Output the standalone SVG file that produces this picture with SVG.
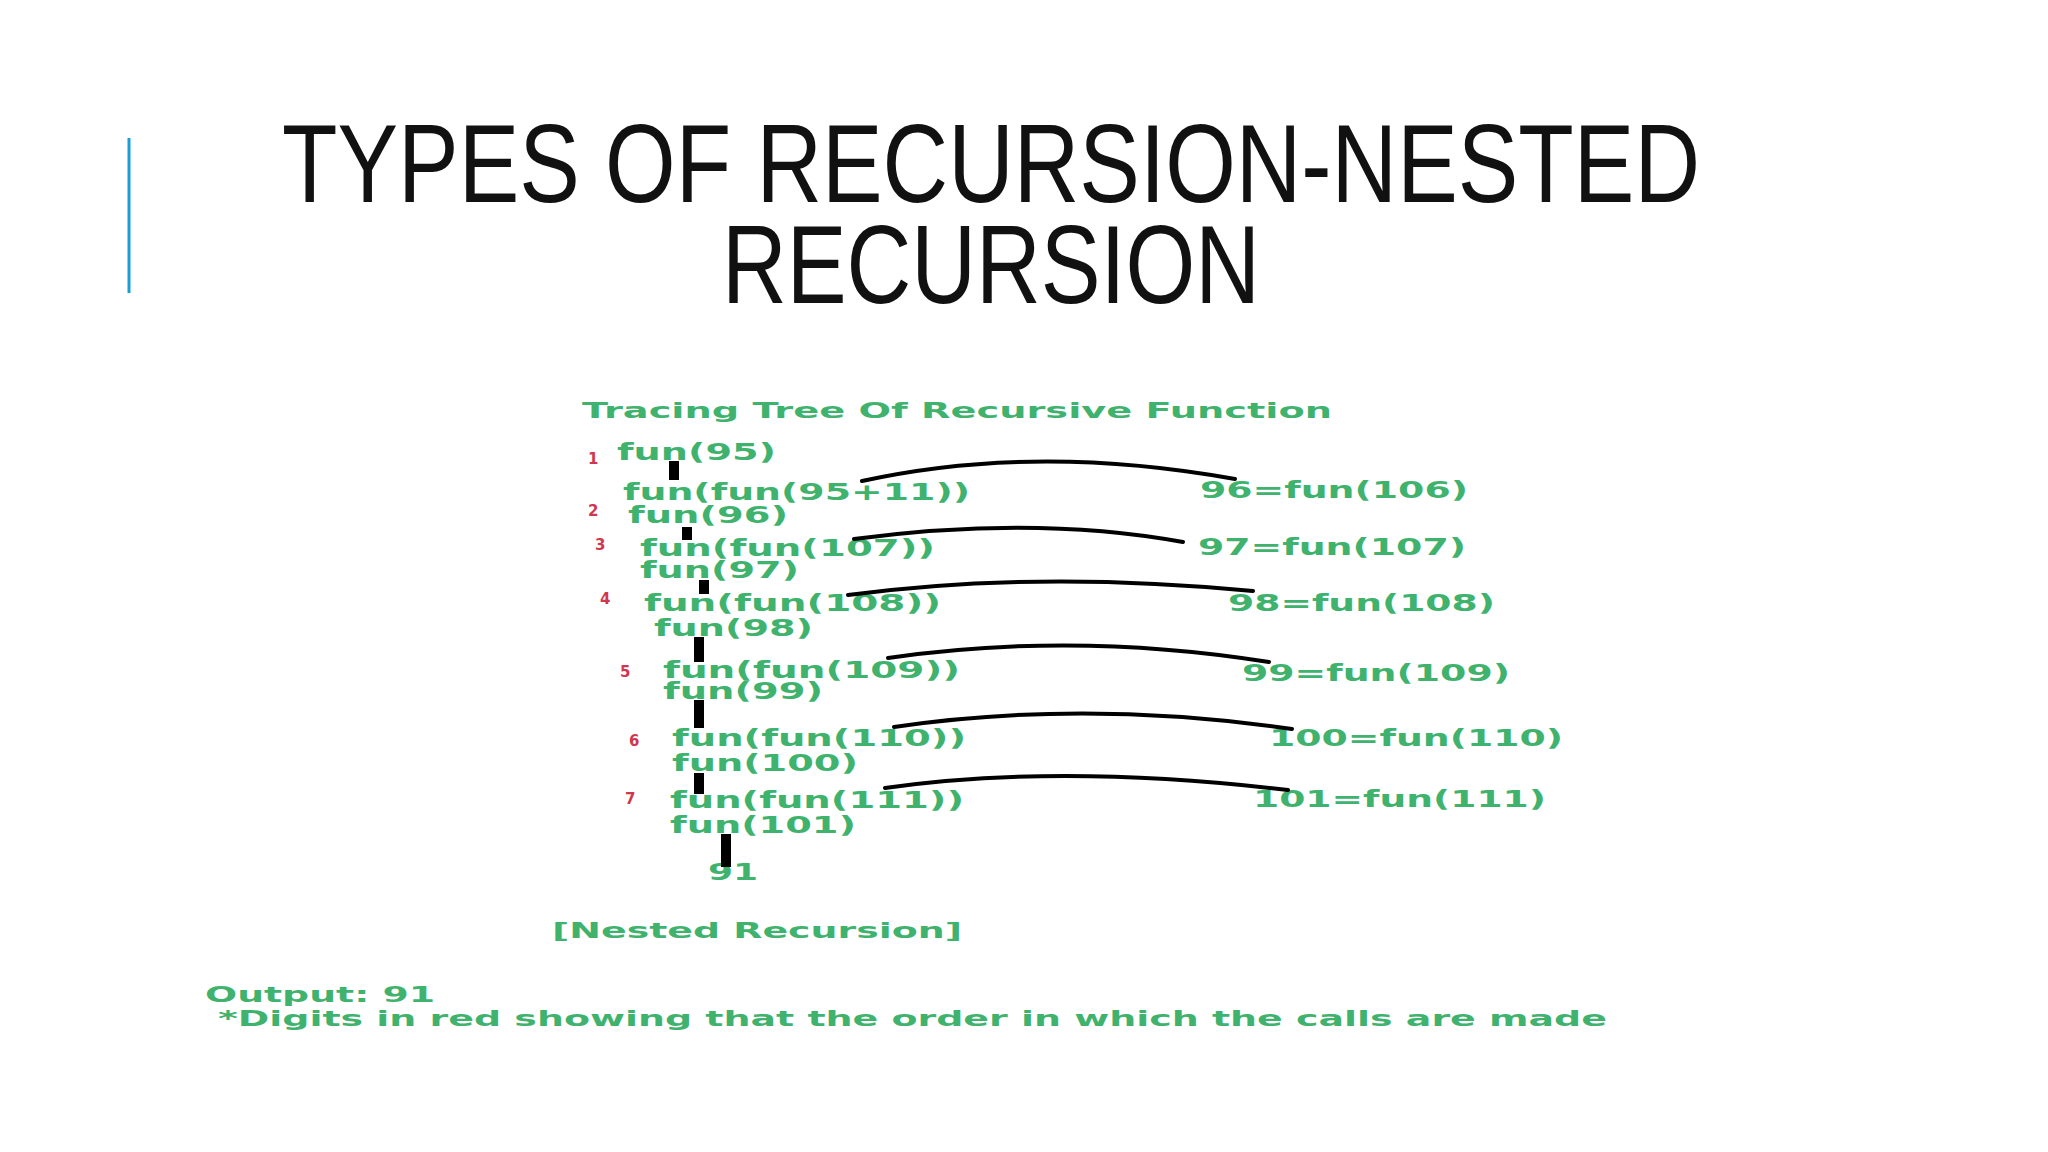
<svg xmlns="http://www.w3.org/2000/svg" width="2048" height="1152" viewBox="0 0 2048 1152">
<style>
.t{font-family:"Liberation Sans Narrow","Liberation Sans",sans-serif;font-size:112px;fill:#111}
.g{font-family:"DejaVu Sans",sans-serif;font-weight:bold;font-size:23px;fill:#3fb36e}
.s{font-size:21px}
.r{font-family:"DejaVu Sans",sans-serif;font-weight:bold;font-size:15px;fill:#d0374e}
.bar{stroke:#000;stroke-width:10}
.arc{fill:none;stroke:#000;stroke-width:4;stroke-linecap:round}
</style>
<rect width="2048" height="1152" fill="#fff"/>
<line x1="129" y1="138" x2="129" y2="293" stroke="#1a9fd4" stroke-width="3"/>
<g id="title">
<text class="t" x="282" y="202" textLength="1418" lengthAdjust="spacingAndGlyphs">TYPES OF RECURSION-NESTED</text>
<text class="t" x="722" y="303" textLength="538" lengthAdjust="spacingAndGlyphs">RECURSION</text>
</g>
<g transform="translate(-5,-2)">
<g id="heading"><text class="g s" x="587" y="420" textLength="750" lengthAdjust="spacingAndGlyphs">Tracing Tree Of Recursive Function</text></g>
<g id="numbers">
<text class="r" x="593" y="466">1</text><text class="r" x="593" y="518">2</text>
<text class="r" x="600" y="552">3</text><text class="r" x="605" y="606">4</text>
<text class="r" x="625" y="679">5</text><text class="r" x="634" y="748">6</text>
<text class="r" x="630" y="806">7</text>
</g>
<g id="left">
<text class="g" x="622" y="462" textLength="159" lengthAdjust="spacingAndGlyphs">fun(95)</text>
<text class="g" x="628" y="502" textLength="347" lengthAdjust="spacingAndGlyphs">fun(fun(95+11))</text>
<text class="g" x="633" y="525" textLength="160" lengthAdjust="spacingAndGlyphs">fun(96)</text>
<text class="g" x="645" y="558" textLength="295" lengthAdjust="spacingAndGlyphs">fun(fun(107))</text>
<text class="g" x="645" y="580" textLength="159" lengthAdjust="spacingAndGlyphs">fun(97)</text>
<text class="g" x="649" y="613" textLength="297" lengthAdjust="spacingAndGlyphs">fun(fun(108))</text>
<text class="g" x="659" y="638" textLength="159" lengthAdjust="spacingAndGlyphs">fun(98)</text>
<text class="g" x="668" y="680" textLength="297" lengthAdjust="spacingAndGlyphs">fun(fun(109))</text>
<text class="g" x="668" y="701" textLength="160" lengthAdjust="spacingAndGlyphs">fun(99)</text>
<text class="g" x="677" y="748" textLength="294" lengthAdjust="spacingAndGlyphs">fun(fun(110))</text>
<text class="g" x="677" y="773" textLength="186" lengthAdjust="spacingAndGlyphs">fun(100)</text>
<text class="g" x="675" y="810" textLength="294" lengthAdjust="spacingAndGlyphs">fun(fun(111))</text>
<text class="g" x="675" y="835" textLength="186" lengthAdjust="spacingAndGlyphs">fun(101)</text>
<text class="g" x="713" y="882" textLength="50" lengthAdjust="spacingAndGlyphs">91</text>
</g>
<g id="right">
<text class="g" x="1205" y="500" textLength="268" lengthAdjust="spacingAndGlyphs">96=fun(106)</text>
<text class="g" x="1203" y="557" textLength="268" lengthAdjust="spacingAndGlyphs">97=fun(107)</text>
<text class="g" x="1233" y="613" textLength="267" lengthAdjust="spacingAndGlyphs">98=fun(108)</text>
<text class="g" x="1247" y="683" textLength="268" lengthAdjust="spacingAndGlyphs">99=fun(109)</text>
<text class="g" x="1274" y="748" textLength="294" lengthAdjust="spacingAndGlyphs">100=fun(110)</text>
<text class="g" x="1258" y="809" textLength="293" lengthAdjust="spacingAndGlyphs">101=fun(111)</text>
</g>
<g id="connectors">
<line class="bar" x1="679" y1="463" x2="679" y2="482"/>
<line class="bar" x1="692" y1="529" x2="692" y2="542"/>
<line class="bar" x1="709" y1="582" x2="709" y2="596"/>
<line class="bar" x1="704" y1="639" x2="704" y2="664"/>
<line class="bar" x1="704" y1="702" x2="704" y2="730"/>
<line class="bar" x1="704" y1="775" x2="704" y2="796"/>
<line class="bar" x1="731" y1="836" x2="731" y2="869"/>
<path class="arc" d="M867,483 Q1040,445 1240,481"/>
<path class="arc" d="M859,541 Q1040,517 1188,544"/>
<path class="arc" d="M853,597 Q1040,572 1258,593"/>
<path class="arc" d="M893,660 Q1080,633 1274,664"/>
<path class="arc" d="M899,729 Q1090,701 1297,731"/>
<path class="arc" d="M890,790 Q1065,765 1293,792"/>
</g>
<g id="footer">
<text class="g s" x="557" y="940" textLength="410" lengthAdjust="spacingAndGlyphs">[Nested Recursion]</text>
<text class="g s" x="210" y="1004" textLength="230" lengthAdjust="spacingAndGlyphs">Output: 91</text>
<text class="g s" x="223" y="1028" textLength="1389" lengthAdjust="spacingAndGlyphs">*Digits in red showing that the order in which the calls are made</text>
</g>
</g>
</svg>
